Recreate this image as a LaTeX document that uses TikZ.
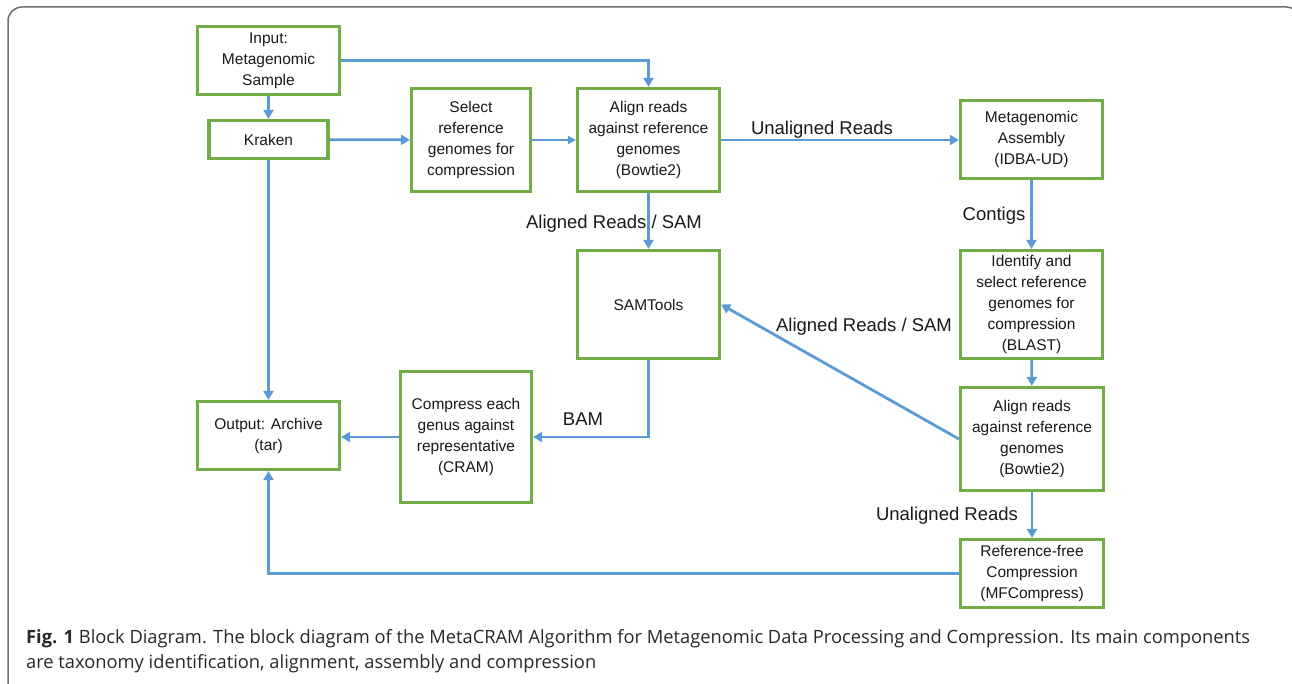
\documentclass[tikz,border=0pt]{standalone}
\usepackage{fontspec}
\setmainfont{Liberation Sans}
\newfontfamily\capfont{Open Sans}
\usetikzlibrary{arrows.meta}
\definecolor{boxgreen}{RGB}{112,173,71}
\definecolor{lineblue}{RGB}{91,155,213}
\definecolor{framegray}{RGB}{110,110,110}
\definecolor{captext}{RGB}{40,40,40}
\begin{document}
\begin{tikzpicture}[x=1pt,y=-1pt,
  blk/.style={draw=boxgreen, line width=3.2pt, fill=white, align=center, inner sep=0pt,
    text=black!90, font=\fontsize{15.5}{21}\selectfont},
  conn/.style={draw=lineblue, line width=2.8pt, -{Triangle[length=9pt,width=10pt]}},
  thinconn/.style={draw=lineblue, line width=1.6pt, -{Triangle[length=8pt,width=8pt]}},
  lbl/.style={font=\fontsize{18.5}{20}\selectfont, inner sep=1pt, text=black!90},
  capstyle/.style={anchor=base west, inner sep=0pt, text=captext, font=\capfont\fontsize{18.3}{22}\selectfont}]
\useasboundingbox (0,0) rectangle (1292,684);
\begin{scope}
  \clip (0,0) rectangle (1292,684);
  \draw[framegray, line width=1.5pt, rounded corners=14pt] (8,7) rectangle (1300,720);
\end{scope}

% boxes
\node[blk, minimum width=142, minimum height=68] (input) at (268.5,60.5) {Input:\\Metagenomic\\Sample};
\node[blk, minimum width=119, minimum height=38] (kraken) at (268.5,139.5) {Kraken};
\node[blk, minimum width=119, minimum height=103] (select) at (471,140) {Select\\reference\\genomes for\\compression};
\node[blk, minimum width=142, minimum height=103] (align1) at (648.5,140) {Align reads\\against reference\\genomes\\(Bowtie2)};
\node[blk, minimum width=142, minimum height=78] (meta) at (1031.5,139.5) {Metagenomic\\Assembly\\(IDBA-UD)};
\node[blk, minimum width=142, minimum height=108] (sam) at (648.5,304.5) {SAMTools};
\node[blk, minimum width=142, minimum height=108] (ident) at (1031.5,304.5) {Identify and\\select reference\\genomes for\\compression\\(BLAST)};
\node[blk, minimum width=142, minimum height=68] (output) at (268.5,435.5) {Output: Archive\\(tar)};
\node[blk, minimum width=131, minimum height=131] (compress) at (466,437) {Compress each\\genus against\\representative\\(CRAM)};
\node[blk, minimum width=143, minimum height=103] (align2) at (1032,439) {Align reads\\against reference\\genomes\\(Bowtie2)};
\node[blk, minimum width=143, minimum height=68] (reffree) at (1032,573.5) {Reference-free\\Compression\\(MFCompress)};

\coordinate (c1) at (648.5,60.5);
\coordinate (c2) at (648.5,437);
\coordinate (c3) at (268.5,573.5);

% connectors
\draw[conn] (input) -- (kraken);
\draw[conn] (input.east) -- (c1) -- (align1.north);
\draw[conn] (kraken) -- (select);
\draw[thinconn] (select) -- (align1);
\draw[conn] (align1.east) -- (meta.west |- align1.east);
\draw[conn] (align1) -- (sam);
\draw[conn] (meta.south -| ident.north) -- (ident.north);
\draw[conn] (ident) -- (align2);
\draw[conn] (align2.west) -- (sam.east);
\draw[conn] (align2) -- (reffree);
\draw[conn] (sam.south) -- (c2) -- (compress.east);
\draw[conn] (compress.west) -- (output.east |- compress.west);
\draw[conn] (kraken) -- (output);
\draw[conn] (reffree.west) -- (c3) -- (output.south);

% labels
\node[lbl] (l1) at (822,130) {Unaligned Reads};
\node[lbl] (l2) at (614,224) {Aligned Reads / SAM};
\node[lbl] (l3) at (994,216) {Contigs};
\node[lbl] (l4) at (864,327) {Aligned Reads / SAM};
\node[lbl] (l5) at (947,516) {Unaligned Reads};
\node[lbl] (l6) at (583,419) {BAM};

% caption
\node[capstyle] (cap1) at (26,643) {{\bfseries Fig. 1} Block Diagram. The block diagram of the MetaCRAM Algorithm for Metagenomic Data Processing and Compression. Its main components};
\node[capstyle] (cap2) at (26,668) {are taxonomy identification, alignment, assembly and compression};
\end{tikzpicture}
\end{document}
